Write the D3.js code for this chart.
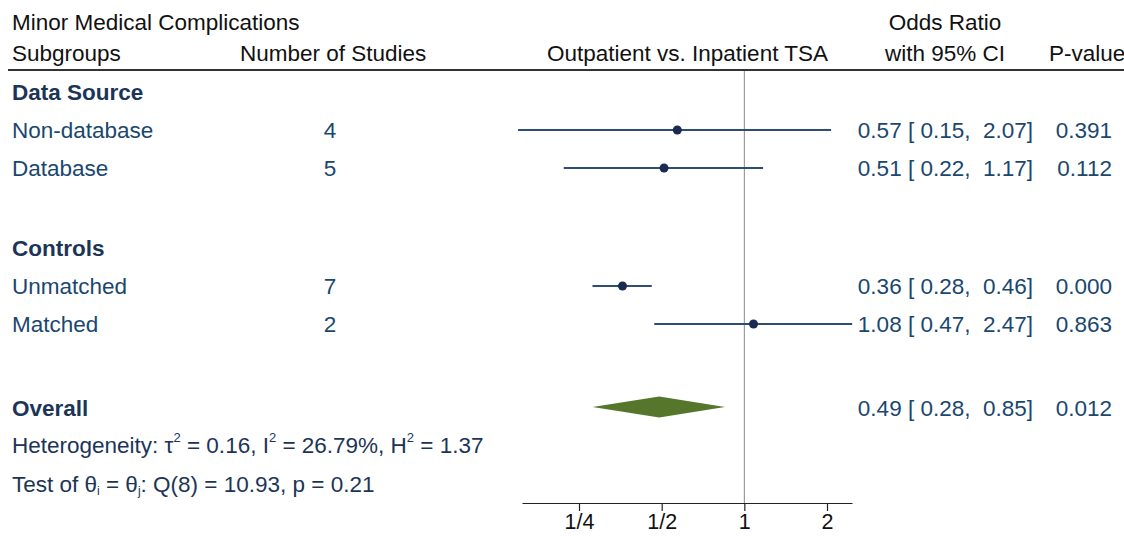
<!DOCTYPE html>
<html><head><meta charset="utf-8">
<script src="https://cdn.jsdelivr.net/npm/d3@7"></script>
<style>body{margin:0;background:#fff}svg{display:block;font-family:"Liberation Sans",Arial,sans-serif}</style>
</head><body><svg id="c" width="1124" height="536"></svg>
<script>
// ---- data ----
const rowLabels = ["Data Source","Non-database","Database","","Controls","Unmatched","Matched","","Overall"];
const rowTypes  = ["group","study","study","blank","group","study","study","blank","overall"];
const nStudies  = ["","4","5","","","7","2","",""];
const orValues  = [null,0.57,0.51,null,null,0.36,1.08,null,0.49];
const ciLow     = [null,0.15,0.22,null,null,0.28,0.47,null,0.28];
const ciHigh    = [null,2.07,1.17,null,null,0.46,2.47,null,0.85];
const ciText    = ["","0.57 [ 0.15,  2.07]","0.51 [ 0.22,  1.17]","","","0.36 [ 0.28,  0.46]","1.08 [ 0.47,  2.47]","","0.49 [ 0.28,  0.85]"];
const pValues   = ["","0.391","0.112","","","0.000","0.863","","0.012"];
const tickVals  = [0.25,0.5,1,2];
const tickLabels= ["1/4","1/2","1","2"];

const svg = d3.select("#c");
const FS = 22.5;
const navy = "#1a476f", dark="#1c3557", pt="#1a2a52", ln="#2e4d72", green="#56772b";

const x = d3.scaleLog().base(2).domain([0.25,2]).range([579,827]);
const rowY = [92,130,168,208,248,286,324,366,408];

// header texts
const hdr = svg.append("g").attr("font-size",FS).attr("fill","#111");
hdr.append("text").attr("x",12).attr("y",30).text("Minor Medical Complications");
hdr.append("text").attr("x",12).attr("y",61).text("Subgroups");
hdr.append("text").attr("x",240).attr("y",61).text("Number of Studies");
hdr.append("text").attr("x",828).attr("y",61).attr("text-anchor","end").text("Outpatient vs. Inpatient TSA");
hdr.append("text").attr("x",945).attr("y",30).attr("text-anchor","middle").text("Odds Ratio");
hdr.append("text").attr("x",945).attr("y",61).attr("text-anchor","middle").text("with 95% CI");
hdr.append("text").attr("x",1049).attr("y",61).text("P-value");
svg.append("line").attr("x1",8).attr("x2",1124).attr("y1",70).attr("y2",70).attr("stroke","#333").attr("stroke-width",2);

// reference line
svg.append("line").attr("x1",x(1)).attr("x2",x(1)).attr("y1",71).attr("y2",503).attr("stroke","#8a8a8a").attr("stroke-width",1);

// rows
const rows = svg.append("g").attr("font-size",FS);
rowLabels.forEach((lab,i)=>{
  const yy = rowY[i];
  const t = rowTypes[i];
  if(t==="blank") return;
  rows.append("text").attr("x",12).attr("y",yy).attr("dy","0.36em")
    .attr("fill", t==="study"?navy:dark).attr("font-weight", t==="study"?"normal":"bold").text(lab);
  if(nStudies[i]) rows.append("text").attr("x",330).attr("y",yy).attr("dy","0.36em").attr("text-anchor","middle").attr("fill",navy).text(nStudies[i]);
  if(ciText[i]) rows.append("text").attr("x",1033).attr("y",yy).attr("dy","0.36em").attr("text-anchor","end").attr("fill",navy).style("white-space","pre").text(ciText[i]);
  if(pValues[i]) rows.append("text").attr("x",1112).attr("y",yy).attr("dy","0.36em").attr("text-anchor","end").attr("fill",navy).text(pValues[i]);
  if(t==="study"){
    svg.append("line").attr("x1",x(ciLow[i])).attr("x2",x(ciHigh[i])).attr("y1",yy).attr("y2",yy).attr("stroke",ln).attr("stroke-width",2);
    svg.append("circle").attr("cx",x(orValues[i])).attr("cy",yy).attr("r",4.5).attr("fill",pt);
  }
  if(t==="overall"){
    const h=10.5;
    svg.append("path").attr("d",`M${x(ciLow[i])},${yy-1}L${x(orValues[i])},${yy-h-1}L${x(ciHigh[i])},${yy-1}L${x(orValues[i])},${yy+h-1}Z`).attr("fill",green);
  }
});

// heterogeneity text
const het = svg.append("text").attr("x",12).attr("y",445).attr("dy","0.36em").attr("font-size",FS).attr("fill",dark);
het.append("tspan").text("Heterogeneity: τ");
het.append("tspan").attr("font-size",13).attr("dy","-11").text("2");
het.append("tspan").attr("dy","11").text(" = 0.16, I");
het.append("tspan").attr("font-size",13).attr("dy","-11").text("2");
het.append("tspan").attr("dy","11").text(" = 26.79%, H");
het.append("tspan").attr("font-size",13).attr("dy","-11").text("2");
het.append("tspan").attr("dy","11").text(" = 1.37");

const tst = svg.append("text").attr("x",12).attr("y",484).attr("dy","0.36em").attr("font-size",FS).attr("fill",dark);
tst.append("tspan").text("Test of θ");
tst.append("tspan").attr("font-size",12).attr("dy","3").text("i");
tst.append("tspan").attr("dy","-3").text(" = θ");
tst.append("tspan").attr("font-size",12).attr("dy","3").text("j");
tst.append("tspan").attr("dy","-3").text(": Q(8) = 10.93, p = 0.21");

// axis
const xa = d3.scaleLog().base(2).domain([x.invert(522), x.invert(852)]).range([522,852]);
const axis = d3.axisBottom(xa).tickValues(tickVals).tickFormat((d,i)=>tickLabels[i]).tickSize(8).tickSizeOuter(0).tickPadding(3);
const ag = svg.append("g").attr("transform","translate(0,503)").call(axis);
ag.select(".domain").attr("stroke","#222").attr("stroke-width",1.2);
ag.selectAll(".tick line").attr("stroke","#222").attr("stroke-width",1.2);
ag.selectAll(".tick text").attr("font-size",FS-1).attr("fill","#111").attr("font-family","Liberation Sans, Arial, sans-serif");
</script></body></html>
